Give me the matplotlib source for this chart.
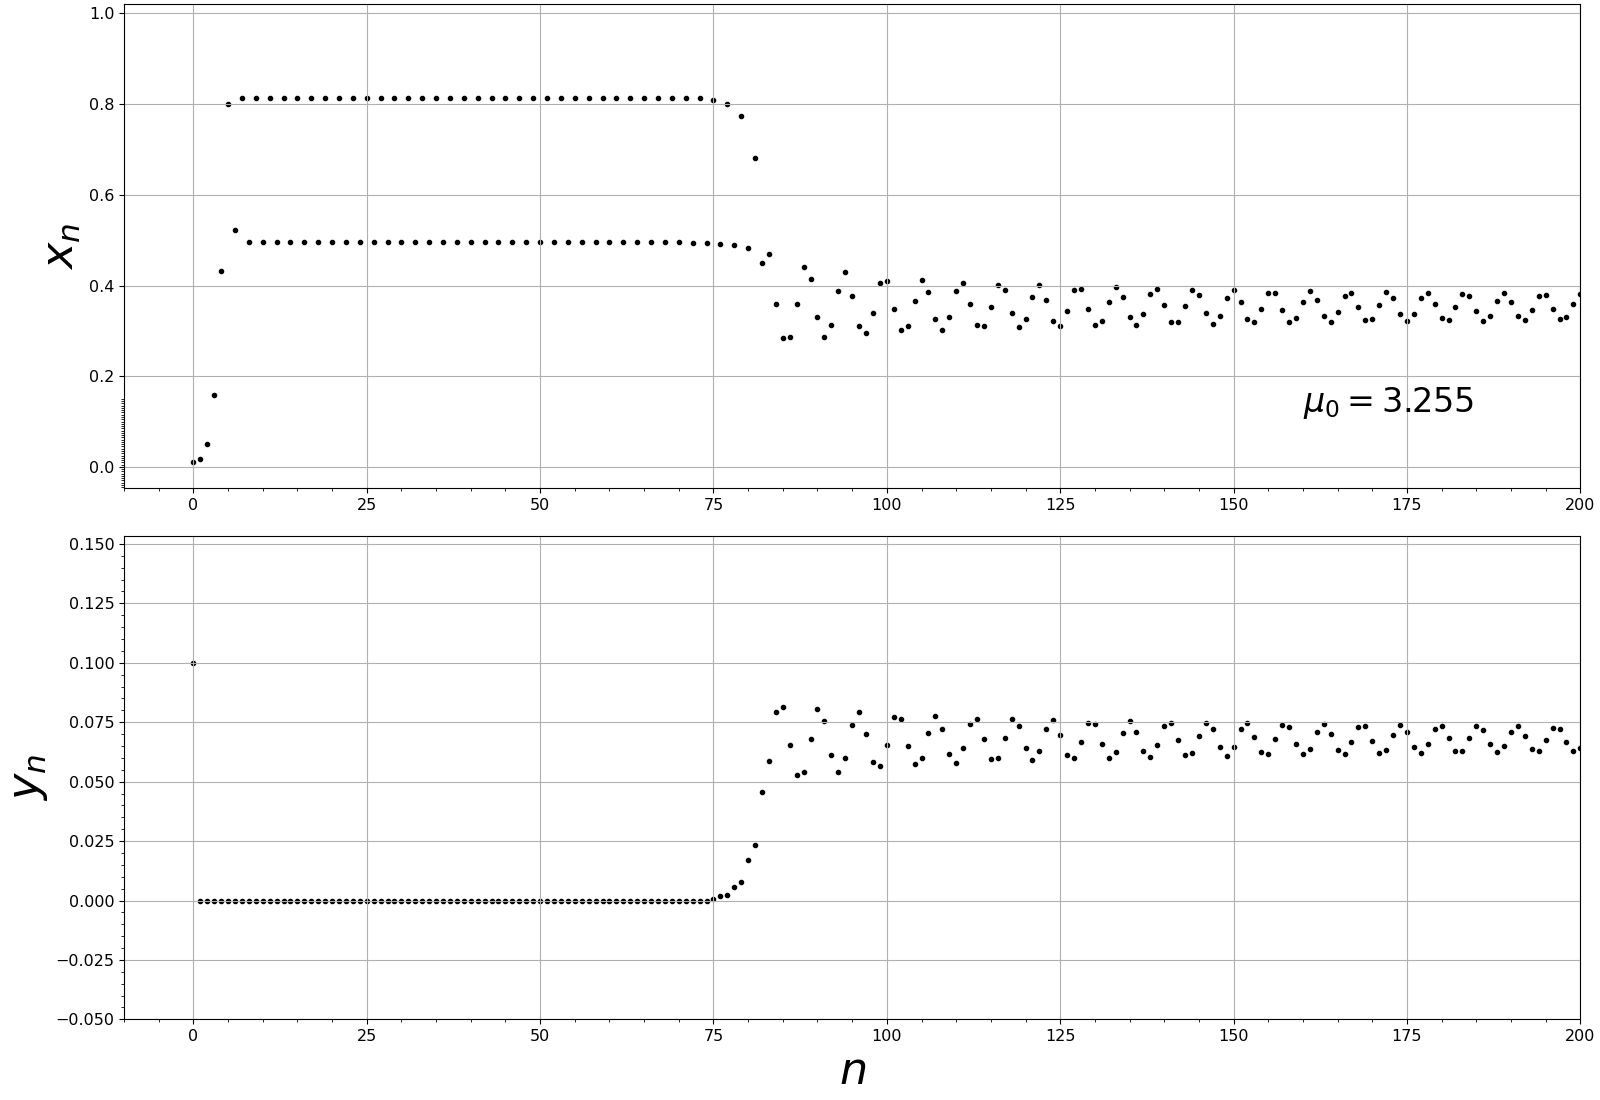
import numpy as np
import matplotlib
matplotlib.use('Agg')
import matplotlib.pyplot as plt
from matplotlib.ticker import MultipleLocator

# Valores de x_n (n = 0..200)
x_n = [
    0.011, 0.017, 0.050, 0.158, 0.432, 0.800, 0.523, 0.813, 0.497, 0.813,   # 0-9
    0.495, 0.813, 0.495, 0.813, 0.495, 0.813, 0.495, 0.813, 0.495, 0.813,   # 10-19
    0.495, 0.813, 0.495, 0.813, 0.495, 0.813, 0.495, 0.813, 0.495, 0.813,   # 20-29
    0.495, 0.813, 0.495, 0.813, 0.495, 0.813, 0.495, 0.813, 0.495, 0.813,   # 30-39
    0.495, 0.813, 0.495, 0.813, 0.495, 0.813, 0.495, 0.813, 0.495, 0.813,   # 40-49
    0.495, 0.813, 0.495, 0.813, 0.495, 0.813, 0.495, 0.813, 0.495, 0.813,   # 50-59
    0.495, 0.813, 0.495, 0.813, 0.495, 0.813, 0.495, 0.813, 0.495, 0.813,   # 60-69
    0.495, 0.813, 0.494, 0.813, 0.493, 0.810, 0.492, 0.800, 0.490, 0.773,   # 70-79
    0.482, 0.681, 0.450, 0.470, 0.359, 0.284, 0.286, 0.359, 0.441, 0.415,   # 80-89
    0.330, 0.286, 0.313, 0.388, 0.430, 0.377, 0.310, 0.295, 0.339, 0.406,   # 90-99
    0.410, 0.348, 0.302, 0.310, 0.366, 0.413, 0.386, 0.326, 0.302, 0.330,   # 100-109
    0.388, 0.406, 0.359, 0.313, 0.310, 0.353, 0.401, 0.390, 0.339, 0.308,   # 110-119
    0.326, 0.375, 0.401, 0.368, 0.322, 0.310, 0.344, 0.390, 0.393, 0.348,   # 120-129
    0.313, 0.322, 0.364, 0.397, 0.375, 0.330, 0.313, 0.337, 0.382, 0.393,   # 130-139
    0.357, 0.319, 0.319, 0.355, 0.390, 0.379, 0.339, 0.315, 0.333, 0.373,   # 140-149
    0.390, 0.364, 0.326, 0.319, 0.348, 0.384, 0.384, 0.346, 0.319, 0.328,   # 150-159
    0.364, 0.388, 0.368, 0.333, 0.319, 0.342, 0.377, 0.384, 0.353, 0.324,   # 160-169
    0.326, 0.357, 0.386, 0.373, 0.337, 0.322, 0.337, 0.373, 0.384, 0.359,   # 170-179
    0.328, 0.324, 0.353, 0.382, 0.377, 0.344, 0.322, 0.333, 0.366, 0.384,   # 180-189
    0.364, 0.333, 0.324, 0.346, 0.377, 0.379, 0.348, 0.326, 0.330, 0.359,   # 190-199
    0.382,                                                                   # 200
]

# Valores de y_n (n = 0..200)
y_n = [
    0.100, 0.0, 0.0, 0.0, 0.0, 0.0, 0.0, 0.0, 0.0, 0.0,                     # 0-9
    0.0, 0.0, 0.0, 0.0, 0.0, 0.0, 0.0, 0.0, 0.0, 0.0,                       # 10-19
    0.0, 0.0, 0.0, 0.0, 0.0, 0.0, 0.0, 0.0, 0.0, 0.0,                       # 20-29
    0.0, 0.0, 0.0, 0.0, 0.0, 0.0, 0.0, 0.0, 0.0, 0.0,                       # 30-39
    0.0, 0.0, 0.0, 0.0, 0.0, 0.0, 0.0, 0.0, 0.0, 0.0,                       # 40-49
    0.0, 0.0, 0.0, 0.0, 0.0, 0.0, 0.0, 0.0, 0.0, 0.0,                       # 50-59
    0.0, 0.0, 0.0, 0.0, 0.0, 0.0, 0.0, 0.0, 0.0, 0.0,                       # 60-69
    0.0, 0.0, 0.0, 0.0, 0.0, 0.0006, 0.0021, 0.0025, 0.0058, 0.0079,        # 70-79
    0.0171, 0.0233, 0.0458, 0.0588, 0.0792, 0.0813, 0.0654, 0.0529, 0.0542, 0.0679,  # 80-89
    0.0804, 0.0754, 0.0613, 0.0542, 0.0600, 0.0738, 0.0792, 0.0700, 0.0583, 0.0567,  # 90-99
    0.0654, 0.0771, 0.0763, 0.0650, 0.0575, 0.0600, 0.0704, 0.0775, 0.0721, 0.0617,  # 100-109
    0.0579, 0.0642, 0.0742, 0.0763, 0.0679, 0.0596, 0.0600, 0.0683, 0.0763, 0.0733,  # 110-119
    0.0642, 0.0592, 0.0629, 0.0721, 0.0758, 0.0696, 0.0613, 0.0600, 0.0667, 0.0746,  # 120-129
    0.0742, 0.0658, 0.0600, 0.0625, 0.0704, 0.0754, 0.0708, 0.0629, 0.0604, 0.0654,  # 130-139
    0.0733, 0.0746, 0.0675, 0.0613, 0.0621, 0.0692, 0.0746, 0.0721, 0.0646, 0.0608,  # 140-149
    0.0646, 0.0721, 0.0746, 0.0688, 0.0625, 0.0617, 0.0679, 0.0738, 0.0729, 0.0658,  # 150-159
    0.0617, 0.0638, 0.0708, 0.0742, 0.0700, 0.0633, 0.0617, 0.0667, 0.0729, 0.0733,  # 160-169
    0.0671, 0.0621, 0.0633, 0.0696, 0.0738, 0.0708, 0.0646, 0.0621, 0.0658, 0.0721,  # 170-179
    0.0733, 0.0683, 0.0629, 0.0629, 0.0683, 0.0733, 0.0717, 0.0658, 0.0625, 0.0650,  # 180-189
    0.0708, 0.0733, 0.0692, 0.0638, 0.0629, 0.0675, 0.0725, 0.0721, 0.0667, 0.0629,  # 190-199
    0.0642,                                                                          # 200
]

n = np.arange(len(x_n))
mu0_text = r'$\mu_0 = 3.255$'

fig, (ax1, ax2) = plt.subplots(2, 1, figsize=(16, 11), dpi=100)
fig.subplots_adjust(left=0.0775, right=0.9877, top=0.996, bottom=0.0733, hspace=0.098)

# x_n
ax1.scatter(n, x_n, s=9, color='k')
ax1.set_xlim(-10, 200)
ax1.set_ylim(-0.047, 1.02)
ax1.set_ylabel(r'$x_n$', fontsize=32)
ax1.text(160, 0.12, mu0_text, fontsize=24)
ax1.grid(True)

# y_n
ax2.scatter(n, y_n, s=9, color='k')
ax2.set_xlim(-10, 200)
ax2.set_ylim(-0.05, 0.1535)
ax2.set_ylabel(r'$y_n$', fontsize=32)
ax2.set_xlabel(r'$n$', fontsize=32)
ax2.grid(True)

for ax in (ax1, ax2):
    ax.xaxis.set_major_locator(MultipleLocator(25))
    ax.xaxis.set_minor_locator(MultipleLocator(5))
    ax.set_yticks(np.arange(-0.05, 0.1501, 0.005), minor=True)
    ax.tick_params(labelsize=11.5)

ax2.yaxis.set_major_locator(MultipleLocator(0.025))
ax2.set_ylim(-0.05, 0.1535)
ax1.set_ylim(-0.047, 1.02)

plt.savefig('out.png', dpi=100)
